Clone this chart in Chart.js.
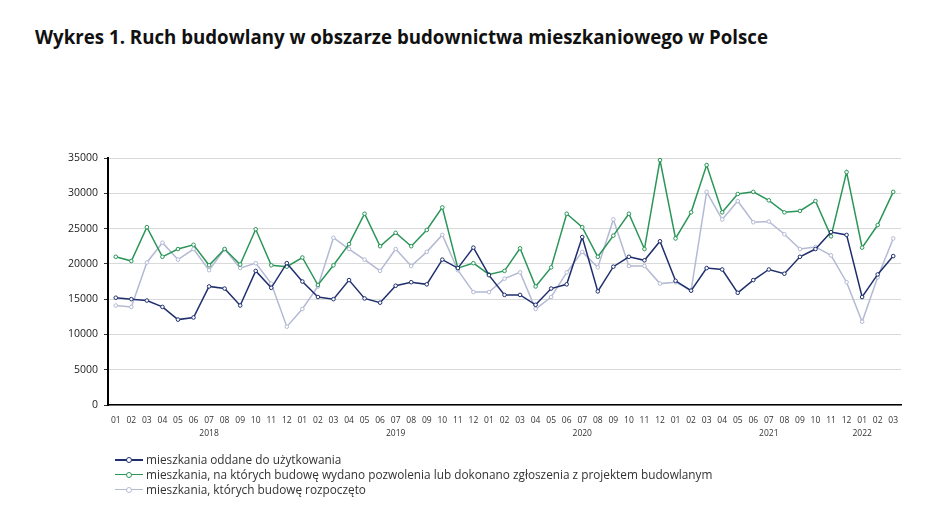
<!DOCTYPE html>
<html>
<head>
<meta charset="utf-8">
<script src="https://cdn.jsdelivr.net/npm/chart.js@4"></script>
<style>
  body { margin: 0; background: #fff; }
  #wrap { position: relative; width: 950px; height: 530px; overflow: hidden; }
  #title { position: absolute; left: 35px; top: 24px; font: bold 18.7px "Open Sans", sans-serif; color: #111; white-space: nowrap; }
  #chart { position: absolute; left: 0; top: 0; }
  #legend { position: absolute; left: 115px; top: 452px; font: 11.8px "Open Sans", sans-serif; color: #333; }
  .item { height: 15px; line-height: 15px; white-space: nowrap; }
  .sample { display: inline-block; position: relative; width: 28px; height: 15px; vertical-align: top; margin-right: 3px; }
  .sample .ln { position: absolute; left: 0; right: 0; top: 7px; height: 2px; }
  .sample .dot { position: absolute; left: 11px; top: 5px; width: 4px; height: 4px; border-radius: 50%; background: #fff; border: 1px solid; }
</style>
</head>
<body>
<div id="wrap">
  <div id="title">Wykres 1. Ruch budowlany w obszarze budownictwa mieszkaniowego w Polsce</div>
  <canvas id="chart" width="950" height="530"></canvas>
  <div id="legend"></div>
</div>
<script>
const monthCodes = [
  '01','02','03','04','05','06','07','08','09','10','11','12',
  '01','02','03','04','05','06','07','08','09','10','11','12',
  '01','02','03','04','05','06','07','08','09','10','11','12',
  '01','02','03','04','05','06','07','08','09','10','11','12',
  '01','02','03'
];
const yearLabels = ['2018', '2019', '2020', '2021', '2022'];
const yearLabelAt = [6, 18, 30, 42, 48];

const seriesNames = [
  'mieszkania oddane do użytkowania',
  'mieszkania, na których budowę wydano pozwolenia lub dokonano zgłoszenia z projektem budowlanym',
  'mieszkania, których budowę rozpoczęto'
];
const seriesColors = ['#1f2f6e', '#2a9558', '#b4b9d4'];

const oddane = [
  15200, 15000, 14800, 13900, 12100, 12400, 16800, 16500, 14100, 19000, 16600, 20100,
  17500, 15300, 15000, 17700, 15100, 14500, 16900, 17400, 17100, 20600, 19400, 22300,
  18400, 15600, 15600, 14200, 16500, 17100, 23800, 16100, 19600, 21000, 20500, 23200,
  17600, 16200, 19400, 19200, 15900, 17700, 19200, 18600, 21000, 22100, 24500, 24100,
  15300, 18500, 21100
];
const pozwolenia = [
  21000, 20400, 25200, 21000, 22100, 22700, 19800, 22100, 19900, 24900, 19800, 19600,
  20900, 17000, 19800, 22800, 27100, 22500, 24400, 22500, 24800, 28000, 19400, 20100,
  18500, 19000, 22200, 16800, 19500, 27100, 25200, 21000, 24000, 27100, 22100, 34700,
  23600, 27300, 34000, 27300, 29900, 30200, 29000, 27300, 27500, 28900, 23900, 33000,
  22300, 25500, 30200
];
const rozpoczete = [
  14100, 13900, 20200, 23000, 20600, 22100, 19100, 22100, 19400, 20100, 17200, 11100,
  13600, 16800, 23700, 22100, 20600, 19000, 22100, 19700, 21700, 24100, 19100, 16000,
  16000, 17900, 18800, 13600, 15300, 18800, 21700, 19500, 26300, 19700, 19700, 17200,
  17400, 16200, 30200, 26300, 28900, 25900, 26000, 24200, 22100, 22400, 21200, 17400,
  11800, 18100, 23600
];

const labels = monthCodes.map((m, i) => {
  const k = yearLabelAt.indexOf(i);
  return k >= 0 ? [m, yearLabels[k]] : [m];
});

function makeSet(name, data, color) {
  return {
    label: name,
    data: data,
    borderColor: color,
    backgroundColor: color,
    borderWidth: 1.5,
    pointRadius: 1.8,
    pointBorderWidth: 1,
    pointBackgroundColor: '#fff',
    pointBorderColor: color,
    tension: 0
  };
}

const datasets = [
  makeSet(seriesNames[0], oddane, seriesColors[0]),
  makeSet(seriesNames[1], pozwolenia, seriesColors[1]),
  makeSet(seriesNames[2], rozpoczete, seriesColors[2])
];
// grey series drawn under the others
datasets[0].order = 1;
datasets[1].order = 2;
datasets[2].order = 3;

new Chart(document.getElementById('chart'), {
  type: 'line',
  data: { labels: labels, datasets: datasets },
  options: {
    responsive: false,
    animation: false,
    layout: { padding: { top: 158, right: 49, bottom: 0, left: 0 } },
    plugins: { legend: { display: false }, tooltip: { enabled: false } },
    scales: {
      x: {
        offset: true,
        grid: { display: false, drawTicks: false },
        border: { color: '#000', width: 1.5 },
        ticks: {
          autoSkip: false, maxRotation: 0, minRotation: 0, padding: 9,
          color: '#333', font: { family: 'Open Sans', size: 8.5, lineHeight: 1.55 }
        },
        afterFit: s => { s.height = 125; }
      },
      y: {
        min: 0, max: 35000,
        grid: { color: '#d9d9d9', lineWidth: 1, tickLength: 4, tickColor: '#333' },
        border: { color: '#000', width: 2 },
        ticks: {
          stepSize: 5000, padding: 6, color: '#222',
          font: { family: 'Open Sans', size: 10.5 },
          callback: v => String(v)
        },
        afterFit: s => { s.width = 108; }
      }
    }
  }
});

// legend as html text
const legend = document.getElementById('legend');
seriesNames.forEach((name, i) => {
  const row = document.createElement('div');
  row.className = 'item';
  const lw = i === 0 ? 2 : 1.3;
  row.innerHTML = '<span class="sample"><span class="ln" style="background:' + seriesColors[i] +
    ';height:' + lw + 'px"></span><span class="dot" style="border-color:' + seriesColors[i] +
    '"></span></span>' + name;
  legend.appendChild(row);
});
</script>
</body>
</html>
